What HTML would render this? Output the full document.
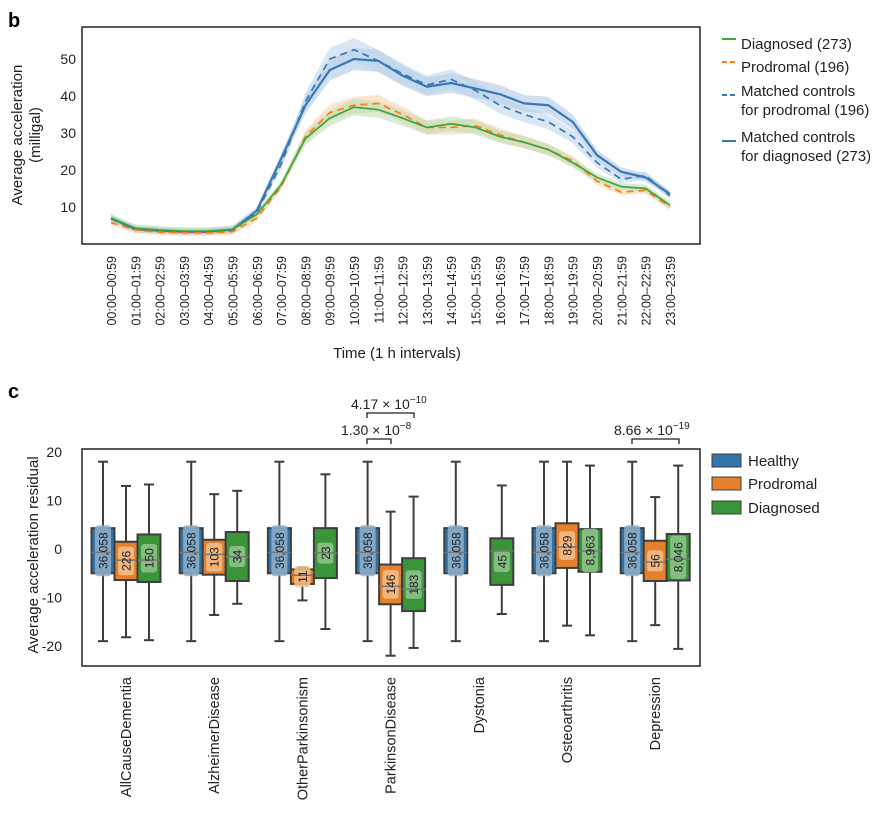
<!DOCTYPE html>
<html><head><meta charset="utf-8"><style>
body{margin:0;background:#fff;}
svg{font-family:"Liberation Sans",sans-serif;}
</style></head><body>
<svg id="s" width="893" height="815" viewBox="0 0 893 815">
<text x="8" y="27" font-size="20" font-weight="bold">b</text>
<text x="8" y="398" font-size="20" font-weight="bold">c</text>
<g id="topg"></g>
<g id="botg"></g>
</svg>
<script>
const hours = ["00:00–00:59","01:00–01:59","02:00–02:59","03:00–03:59","04:00–04:59","05:00–05:59","06:00–06:59","07:00–07:59","08:00–08:59","09:00–09:59","10:00–10:59","11:00–11:59","12:00–12:59","13:00–13:59","14:00–14:59","15:00–15:59","16:00–16:59","17:00–17:59","18:00–18:59","19:00–19:59","20:00–20:59","21:00–21:59","22:00–22:59","23:00–23:59"];
const diagnosed = [7,4.3,3.8,3.5,3.5,4.0,8,16,28.5,34,37,36.3,34,31.5,32.5,31.5,29,27.5,25.5,22,18,15.5,15,10.5];
const prodromal = [5.8,3.8,3.2,3.0,3.0,3.3,7,15.5,29,35.5,37.5,38,35,31.5,31.5,32,29.5,27.5,25.5,22.5,17,14,14.5,10];
const ctrlProd = [6.8,3.8,3.4,3.2,3.2,3.6,8.5,21.5,38.5,50,52.5,49.5,46,43,44.5,41.5,37.5,35,33,29,22,17.5,18.5,13];
const ctrlDiag = [7,4.0,3.6,3.3,3.3,3.9,9,23,37.5,47,50,49.5,45.5,42.5,43.5,42,40.5,38,37.5,33,24,19.5,18,13.5];
const yTicksTop = [10,20,30,40,50];

const cats = ["AllCauseDementia","AlzheimerDisease","OtherParkinsonism","ParkinsonDisease","Dystonia","Osteoarthritis","Depression"];
// [whiskLo, q1, med, q3, whiskHi, n]
const healthyBox = [[-19,-5,-0.7,4.3,18,"36,058"],[-19,-5,-0.7,4.3,18,"36,058"],[-19,-5,-0.7,4.3,18,"36,058"],[-19,-5,-0.7,4.3,18,"36,058"],[-19,-5,-0.7,4.3,18,"36,058"],[-19,-5,-0.7,4.3,18,"36,058"],[-19,-5,-0.7,4.3,18,"36,058"]];
const prodBox = [[-18.2,-6.4,-2.3,1.5,13,"226"],[-13.6,-5.3,-1.1,1.9,11.3,"103"],[-10.6,-7.2,-5.4,-4.2,-3.8,"11"],[-22,-11.4,-7.7,-3.2,7.7,"146"],null,[-15.8,-3.9,0.4,5.3,18,"829"],[-15.7,-6.6,-2.7,1.7,10.7,"56"]];
const diagBox = [[-18.8,-6.8,-2.3,3,13.3,"150"],[-11.3,-6.6,-1.6,3.5,12,"34"],[-16.5,-6,-0.8,4.3,15.4,"23"],[-20.4,-12.8,-8.3,-1.9,10.8,"183"],[-13.4,-7.4,-0.4,2.2,13.1,"45"],[-17.8,-4.7,-0.4,4.1,17.2,"8,963"],[-20.6,-6.5,-2.1,3.1,17.2,"8,046"]];
const yTicksBot = [-20,-10,0,10,20];

const NS="http://www.w3.org/2000/svg";
function mk(p,tag,at,txt){const e=document.createElementNS(NS,tag);for(const k in at)e.setAttribute(k,at[k]);if(txt!==undefined)e.textContent=txt;p.appendChild(e);return e;}
const gTop=document.getElementById('topg'), gBot=document.getElementById('botg');

// ---- top chart
const tx=i=>111+i*24.3, ty=v=>244-v*3.7;
let f=mk(gTop,'rect',{x:82,y:27,width:618,height:217,fill:'none',stroke:'#222','stroke-width':1.5});


yTicksTop.forEach(v=>{const t=mk(gTop,'text',{x:76,y:ty(v)+5,'font-size':14,'text-anchor':'end',fill:'#222'},v);

});
hours.forEach((h,i)=>{const t=mk(gTop,'text',{transform:`translate(${tx(i)+5},256) rotate(-90)`,'font-size':12.5,'text-anchor':'end',fill:'#222'},h);

});
let t1=mk(gTop,'text',{transform:'translate(22,135) rotate(-90)','font-size':15,'text-anchor':'middle',fill:'#222'},'Average acceleration');


let t2=mk(gTop,'text',{transform:'translate(40,135) rotate(-90)','font-size':15,'text-anchor':'middle',fill:'#222'},'(milligal)');


let t3=mk(gTop,'text',{x:397,y:358,'font-size':15,'text-anchor':'middle',fill:'#222'},'Time (1 h intervals)');


const series=[[ctrlDiag,'#3a78b5',null,'#a9c5e3',2.2],[ctrlProd,'#3a78b5','7,5','#b9d2ea',1.7],[prodromal,'#ff7f0e','7,5','#f9cfa8',1.7],[diagnosed,'#3fa33f',null,'#b8dcb0',1.7]];
const names=['line-controls-diagnosed','line-controls-prodromal','line-prodromal','line-diagnosed'];
series.forEach((s,k)=>{const d=s[0];let up=d.map((v,i)=>tx(i)+','+ty(v+Math.max(1,v*0.06))).join(' ');
let lo=d.map((v,i)=>tx(i)+','+ty(v-Math.max(0.8,v*0.06))).reverse().join(' ');
const b=mk(gTop,'polygon',{points:up+' '+lo,fill:s[3],opacity:0.55});

});
series.forEach((s,k)=>{const at={points:s[0].map((v,i)=>tx(i)+','+ty(v)).join(' '),fill:'none',stroke:s[1],'stroke-width':s[4]};if(s[2])at['stroke-dasharray']=s[2];
const l=mk(gTop,'polyline',at);

});
const leg=[['Diagnosed (273)','#3fa33f',null,44],['Prodromal (196)','#ff7f0e','5,3',67],['Matched controls','#3a78b5','5,3',91,'for prodromal (196)'],['Matched controls','#3a78b5',null,137,'for diagnosed (273)']];
leg.forEach(L=>{const ly=L[4]?L[3]+9:L[3];const at={x1:722,x2:736,y1:ly-5,y2:ly-5,stroke:L[1],'stroke-width':2};if(L[2])at['stroke-dasharray']=L[2];
const ln=mk(gTop,'line',at);


const tt=mk(gTop,'text',{x:741,y:L[3]+5,'font-size':15,fill:'#222'},L[0]);


if(L[4]){const t=mk(gTop,'text',{x:741,y:L[3]+24,'font-size':15,fill:'#222'},L[4]);

}});

// ---- bottom chart
const by=v=>549-v*4.85, gx=i=>126+i*88.2;
f=mk(gBot,'rect',{x:82,y:449,width:618,height:217,fill:'none',stroke:'#222','stroke-width':1.5});


yTicksBot.forEach(v=>{const t=mk(gBot,'text',{x:62,y:by(v)+5,'font-size':14,'text-anchor':'end',fill:'#222'},v);

});
let yt=mk(gBot,'text',{transform:'translate(38,555) rotate(-90)','font-size':15,'text-anchor':'middle',fill:'#222'},'Average acceleration residual');


cats.forEach((c,i)=>{const t=mk(gBot,'text',{transform:`translate(${gx(i)+5},677) rotate(-90)`,'font-size':14.5,'text-anchor':'end',fill:'#222'},c);

});
const groups=[[healthyBox,-23,'#3274a7','#8fb0cc'],[prodBox,0,'#e5812d','#f2bf8c'],[diagBox,23,'#3a943a','#92c48d']];
groups.forEach(g=>{g[0].forEach((b,i)=>{if(!b)return;const cx=gx(i)+g[1],w=23;
const wl=mk(gBot,'line',{x1:cx,x2:cx,y1:by(b[4]),y2:by(b[0]),stroke:'#3d3d3d','stroke-width':2});


[b[0],b[4]].forEach(v=>{const c=mk(gBot,'line',{x1:cx-5,x2:cx+5,y1:by(v),y2:by(v),stroke:'#3d3d3d','stroke-width':2});

});
const r=mk(gBot,'rect',{x:cx-w/2,y:by(b[3]),width:w,height:by(b[1])-by(b[3]),fill:g[2],stroke:'#3d3d3d','stroke-width':2});


const lab=String(b[5]);const lh=Math.min(lab.length*7.5+6,by(b[1])-by(b[3])+8);const ym=(by(b[1])+by(b[3]))/2;
const lb=mk(gBot,'rect',{x:cx-8,y:ym-lh/2,width:16,height:lh,rx:3,fill:g[3],opacity:0.85});


const md=mk(gBot,'line',{x1:cx-w/2,x2:cx+w/2,y1:by(b[2]),y2:by(b[2]),stroke:'#777','stroke-width':1.5});


const ct=mk(gBot,'text',{transform:`translate(${cx+4.5},${ym}) rotate(-90)`,'font-size':12,'text-anchor':'middle',fill:'#222'},lab);

});});
function brk(x1,x2,y,txt,sup,tx0){const p=mk(gBot,'path',{d:`M${x1},${y+5}V${y}H${x2}V${y+5}`,fill:'none',stroke:'#222','stroke-width':1.3});


const t=mk(gBot,'text',{x:tx0,y:y-4,'font-size':14,fill:'#222'});


mk(t,'tspan',{},txt);mk(t,'tspan',{dy:-6,'font-size':10},sup);}
brk(367,414,413,'4.17 × 10','−10',351);
brk(367,391,439,'1.30 × 10','−8',341);
brk(632,679,439,'8.66 × 10','−19',614);
const lg=[['Healthy','#3274a7',461],['Prodromal','#e5812d',484],['Diagnosed','#3a943a',508]];
lg.forEach(L=>{const r=mk(gBot,'rect',{x:712,y:L[2]-7,width:29,height:13,fill:L[1],stroke:'#3d3d3d','stroke-width':1});


const t=mk(gBot,'text',{x:748,y:L[2]+5,'font-size':15,fill:'#222'},L[0]);

});
</script>
</body></html>
